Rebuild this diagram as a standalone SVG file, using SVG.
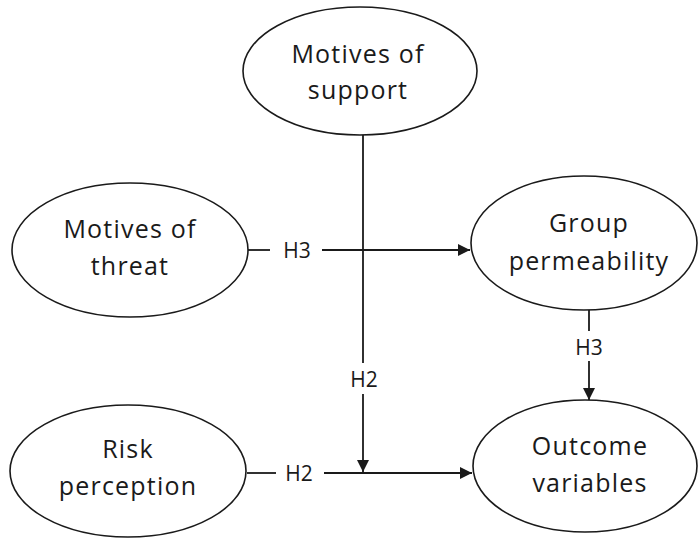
<svg xmlns="http://www.w3.org/2000/svg" width="699" height="540" viewBox="0 0 699 540">
<style>
.node ellipse{fill:#fff;stroke:#1a1a1a;stroke-width:1.6}
.node text{font-family:"Open Sans","Liberation Sans",sans-serif;font-size:25px;letter-spacing:1.2px;fill:#1a1a1a;text-anchor:middle}
.conn line{stroke:#1a1a1a;stroke-width:1.8}
.lbl{font-family:"Open Sans","Liberation Sans",sans-serif;font-size:21px;fill:#1a1a1a;text-anchor:middle}
</style>
<defs>
<marker id="ah" markerWidth="12" markerHeight="12" viewBox="0 0 12 12" refX="12" refY="6" orient="auto" markerUnits="userSpaceOnUse">
<path d="M0,0 L12,6 L0,12 Z" fill="#1a1a1a"/>
</marker>
</defs>
<g id="connectors" class="conn">
<line x1="363" y1="135" x2="363" y2="363"/>
<line x1="363" y1="394" x2="363" y2="472" marker-end="url(#ah)"/>
<line x1="248" y1="250" x2="270" y2="250"/>
<line x1="322" y1="250" x2="470" y2="250" marker-end="url(#ah)"/>
<line x1="247" y1="473" x2="276" y2="473"/>
<line x1="324" y1="473" x2="472" y2="473" marker-end="url(#ah)"/>
<line x1="589" y1="310" x2="589" y2="331"/>
<line x1="589" y1="361" x2="589" y2="400" marker-end="url(#ah)"/>
<text class="lbl" x="297" y="258">H3</text>
<text class="lbl" x="299" y="481">H2</text>
<text class="lbl" x="364" y="387">H2</text>
<text class="lbl" x="589" y="355">H3</text>
</g>
<g id="support" class="node">
<ellipse cx="360" cy="71" rx="117" ry="64"/>
<text x="358" y="63">Motives of</text>
<text x="358" y="99">support</text>
</g>
<g id="threat" class="node">
<ellipse cx="130" cy="250" rx="118" ry="67"/>
<text x="130" y="238">Motives of</text>
<text x="130" y="275">threat</text>
</g>
<g id="permeability" class="node">
<ellipse cx="584" cy="243" rx="113" ry="67"/>
<text x="589" y="232">Group</text>
<text x="589" y="270">permeability</text>
</g>
<g id="risk" class="node">
<ellipse cx="128" cy="471" rx="118" ry="66"/>
<text x="128" y="458">Risk</text>
<text x="128" y="495">perception</text>
</g>
<g id="outcome" class="node">
<ellipse cx="585" cy="466" rx="112" ry="66"/>
<text x="590" y="455">Outcome</text>
<text x="590" y="492">variables</text>
</g>
</svg>
